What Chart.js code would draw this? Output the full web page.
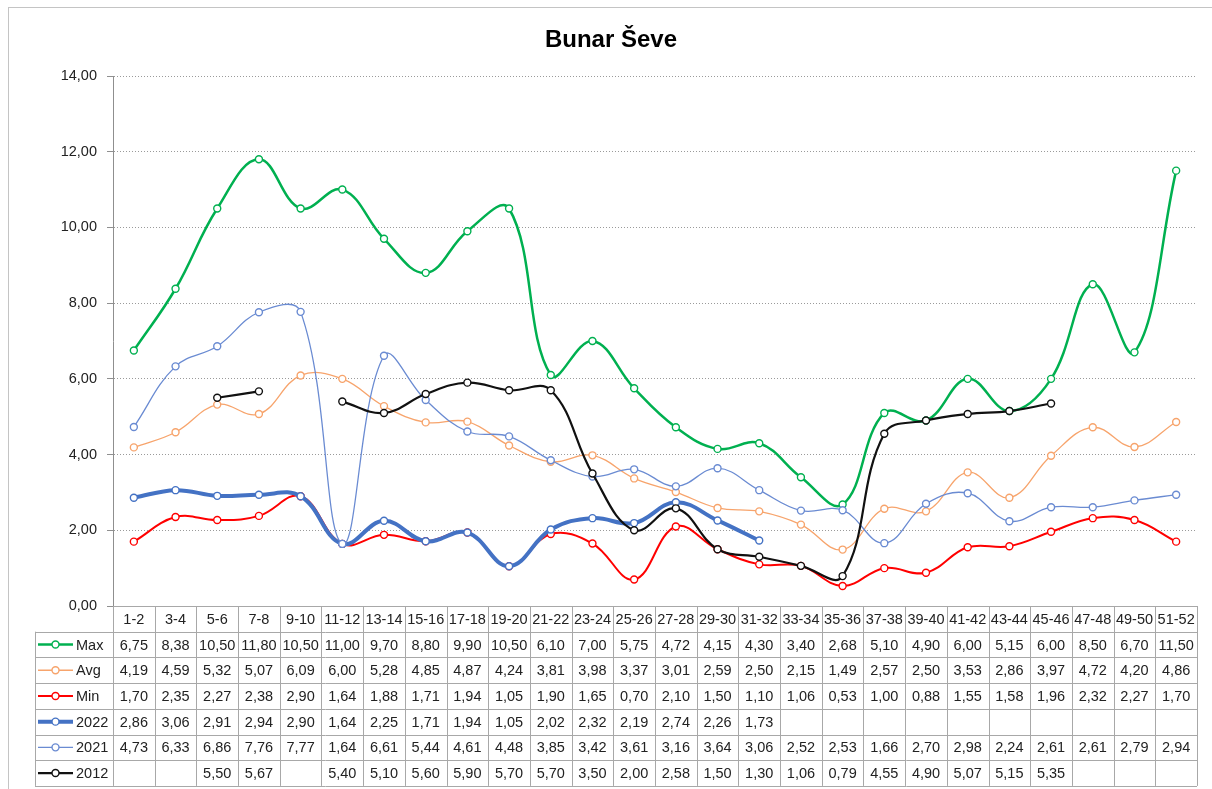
<!DOCTYPE html>
<html>
<head>
<meta charset="utf-8">
<title>Bunar Ševe</title>
<style>
  html, body { margin: 0; padding: 0; background: #fff; }
  #wrap { width: 1212px; height: 789px; }
</style>
<script src="https://cdn.jsdelivr.net/npm/chart.js"></script>
</head>
<body>
<div id="wrap"><canvas id="chart" width="1212" height="789"></canvas></div>
<script>
const chartTitle = "Bunar Ševe";
const labels = ["1-2", "3-4", "5-6", "7-8", "9-10", "11-12", "13-14", "15-16", "17-18", "19-20", "21-22", "23-24", "25-26",
    "27-28", "29-30", "31-32", "33-34", "35-36", "37-38", "39-40", "41-42", "43-44", "45-46", "47-48", "49-50", "51-52"];

const maxValues = [6.75, 8.38, 10.50, 11.80, 10.50, 11.00, 9.70, 8.80, 9.90, 10.50, 6.10, 7.00, 5.75,
    4.72, 4.15, 4.30, 3.40, 2.68, 5.10, 4.90, 6.00, 5.15, 6.00, 8.50, 6.70, 11.50];
const avgValues = [4.19, 4.59, 5.32, 5.07, 6.09, 6.00, 5.28, 4.85, 4.87, 4.24, 3.81, 3.98, 3.37,
    3.01, 2.59, 2.50, 2.15, 1.49, 2.57, 2.50, 3.53, 2.86, 3.97, 4.72, 4.20, 4.86];
const minValues = [1.70, 2.35, 2.27, 2.38, 2.90, 1.64, 1.88, 1.71, 1.94, 1.05, 1.90, 1.65, 0.70,
    2.10, 1.50, 1.10, 1.06, 0.53, 1.00, 0.88, 1.55, 1.58, 1.96, 2.32, 2.27, 1.70];
const values2022 = [2.86, 3.06, 2.91, 2.94, 2.90, 1.64, 2.25, 1.71, 1.94, 1.05, 2.02, 2.32, 2.19,
    2.74, 2.26, 1.73, null, null, null, null, null, null, null, null, null, null];
const values2021 = [4.73, 6.33, 6.86, 7.76, 7.77, 1.64, 6.61, 5.44, 4.61, 4.48, 3.85, 3.42, 3.61,
    3.16, 3.64, 3.06, 2.52, 2.53, 1.66, 2.70, 2.98, 2.24, 2.61, 2.61, 2.79, 2.94];
const values2012 = [null, null, 5.50, 5.67, null, 5.40, 5.10, 5.60, 5.90, 5.70, 5.70, 3.50, 2.00,
    2.58, 1.50, 1.30, 1.06, 0.79, 4.55, 4.90, 5.07, 5.15, 5.35, null, null, null];

const seriesNames = ["Max", "Avg", "Min", "2022", "2021", "2012"];
const seriesData = [maxValues, avgValues, minValues, values2022, values2021, values2012];
const seriesColors = ["#00b050", "#f7a46c", "#ff0000", "#4472c4", "#6a8bd2", "#111111"];
const seriesWidths = [2.5, 1.3, 2, 4, 1.3, 2.2];

const FONT = '"Liberation Sans", Arial, sans-serif';
const TEXT_COLOR = "#222";
const fmt = v => v.toFixed(2).replace(".", ",");

const datasets = seriesNames.map((name, i) => ({
    label: name,
    data: seriesData[i],
    borderColor: seriesColors[i],
    borderWidth: seriesWidths[i],
    pointRadius: 3.5,
    pointBorderWidth: 1.4,
    pointBackgroundColor: "#fff",
    pointBorderColor: seriesColors[i],
    tension: 0.4,
    spanGaps: false,
    order: seriesNames.length - i, // excel draws later series on top
}));

// white background, outer frame and title
const framePlugin = {
    id: "frame",
    beforeDraw(chart) {
        const ctx = chart.ctx;
        ctx.save();
        ctx.fillStyle = "#fff";
        ctx.fillRect(0, 0, chart.width, chart.height);
        ctx.strokeStyle = "#c4c4c4";
        ctx.lineWidth = 1;
        ctx.strokeRect(8.5, 7.5, chart.width + 10, chart.height + 10);
        ctx.fillStyle = "#000";
        ctx.font = "bold 24px " + FONT;
        ctx.textAlign = "center";
        ctx.textBaseline = "alphabetic";
        ctx.fillText(chartTitle, 611, 47);
        ctx.restore();
    }
};

// data table under the plot, columns follow the x scale
const tablePlugin = {
    id: "dataTable",
    afterDraw(chart) {
        const ctx = chart.ctx;
        const area = chart.chartArea;
        const xScale = chart.scales.x;
        const colW = (area.right - area.left) / labels.length;
        const top = area.bottom;
        const rowH = 25.7;
        const legendLeft = 35;
        const bottom = top + rowH * (seriesNames.length + 1);

        ctx.save();
        ctx.strokeStyle = "#a8a8a8";
        ctx.lineWidth = 1;
        ctx.beginPath();
        for (let r = 0; r <= seriesNames.length + 1; r++) {
            const y = Math.round(top + r * rowH) + 0.5;
            ctx.moveTo(r === 0 ? area.left : legendLeft, y);
            ctx.lineTo(area.right, y);
        }
        for (let c = 0; c <= labels.length; c++) {
            const x = Math.round(area.left + c * colW) + 0.5;
            ctx.moveTo(x, top);
            ctx.lineTo(x, bottom);
        }
        ctx.moveTo(legendLeft + 0.5, top + rowH);
        ctx.lineTo(legendLeft + 0.5, bottom);
        ctx.stroke();

        ctx.fillStyle = TEXT_COLOR;
        ctx.font = "14.5px " + FONT;
        ctx.textAlign = "center";
        ctx.textBaseline = "middle";
        labels.forEach((lab, i) => {
            ctx.fillText(lab, xScale.getPixelForValue(i), top + rowH / 2 + 1);
        });

        seriesNames.forEach((name, r) => {
            const cy = top + rowH * (r + 1.5) + 1;
            seriesData[r].forEach((v, i) => {
                if (v === null) return;
                ctx.fillText(fmt(v), xScale.getPixelForValue(i), cy);
            });
        });

        // legend keys
        seriesNames.forEach((name, r) => {
            const cy = top + rowH * (r + 1.5);
            ctx.strokeStyle = seriesColors[r];
            ctx.lineWidth = seriesWidths[r];
            ctx.beginPath();
            ctx.moveTo(38, cy);
            ctx.lineTo(73, cy);
            ctx.stroke();
            ctx.beginPath();
            ctx.fillStyle = "#fff";
            ctx.lineWidth = 1.4;
            ctx.arc(55.5, cy, 3.5, 0, Math.PI * 2);
            ctx.fill();
            ctx.stroke();
            ctx.fillStyle = TEXT_COLOR;
            ctx.textAlign = "left";
            ctx.fillText(name, 76, cy + 1);
        });
        ctx.restore();
    }
};

new Chart(document.getElementById("chart"), {
    type: "line",
    data: { labels: labels, datasets: datasets },
    options: {
        responsive: false,
        animation: false,
        devicePixelRatio: 1,
        layout: { padding: { top: 76, bottom: 183, left: 0, right: 15 } },
        scales: {
            x: {
                display: false,
                offset: true,
            },
            y: {
                min: 0,
                max: 14,
                afterFit: (scale) => { scale.width = 113; },
                ticks: {
                    stepSize: 2,
                    padding: 10,
                    color: TEXT_COLOR,
                    font: { family: FONT, size: 14.5 },
                    callback: (v) => fmt(v),
                },
                grid: {
                    color: "#9a9a9a",
                    tickColor: "#8f8f8f",
                    tickLength: 6,
                    drawTicks: true,
                },
                border: {
                    display: true,
                    color: "#8f8f8f",
                    width: 1,
                    dash: [1, 2],
                },
            },
        },
        plugins: {
            legend: { display: false },
            tooltip: { enabled: false },
            title: { display: false },
        },
    },
    plugins: [framePlugin, tablePlugin],
});
</script>
</body>
</html>
